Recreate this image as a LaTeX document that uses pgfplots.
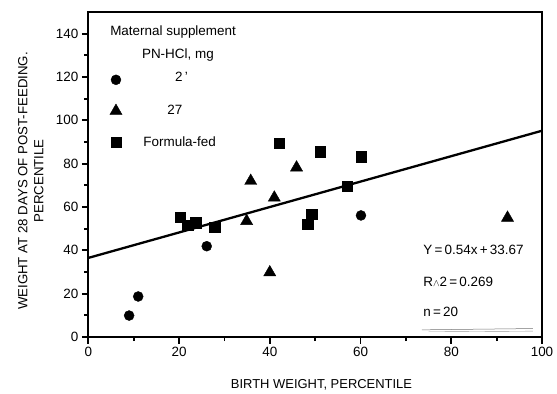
\documentclass[border=0pt]{standalone}
\usepackage{pgfplots}
\pgfplotsset{compat=1.18}
\usepackage{fontspec}
\setmainfont{Liberation Sans}
\begin{document}
\begin{tikzpicture}
\useasboundingbox (-88.3bp,-57bp) rectangle (468.7bp,337bp);
\begin{axis}[
  at={(0,0)}, anchor=south west,
  scale only axis, width=453.7bp, height=325bp,
  xmin=0, xmax=100, ymin=0, ymax=150,
  xtick={0,20,...,100}, ytick={0,20,...,140},
  minor xtick={10,30,...,90}, minor ytick={10,30,...,130},
  tick align=outside, tick pos=left,
  major tick length=6.5bp, minor tick length=4bp,
  axis line style={line width=2.1bp},
  every tick/.style={line width=1.8bp, black},
  clip=false,
  ticklabel style={font=\fontsize{13.5}{15}\selectfont},
  /pgf/number format/assume math mode=true,
  xlabel={BIRTH WEIGHT, PERCENTILE},
  ylabel={WEIGHT AT 28 DAYS OF POST-FEEDING.\\PERCENTILE},
  xlabel style={at={(axis description cs:0.514,0)}, anchor=base, yshift=-51.5bp, font=\fontsize{13}{15}\selectfont},
  ylabel style={at={(axis description cs:-0.1267,0.48)}, anchor=center, align=center, font=\fontsize{13.3}{16.3}\selectfont},
]
% circles (2 mg)
\addplot[only marks, mark=*, mark size=5bp, black] coordinates {
  (9.0,9.9) (11.0,18.7) (26.1,41.9) (60.1,56.1)
};
% triangles (27 mg)
\addplot[only marks, mark=triangle*, mark size=7bp, black] coordinates {
  (35.8,72.0) (34.9,53.5) (40.0,29.8) (41.0,64.3) (45.9,78.2) (92.4,55.0)
};
% squares (formula-fed)
\addplot[only marks, mark=square*, mark size=5.2bp, black] coordinates {
  (20.2,55.3) (21.9,51.5) (23.7,52.7) (27.9,50.7) (42.1,89.5)
  (51.1,85.6) (60.1,83.3) (57.0,69.7) (49.2,56.6) (48.4,52.2)
};
% regression line
\addplot[line width=2.3bp, black] coordinates {(0,36.5) (100,95.2)};
% faint underline artefact
\addplot[black!55, line width=0.5bp] coordinates {(73.5,3.3) (98,3.9)};
\addplot[black!40, line width=0.4bp] coordinates {(75,2.4) (98,2.7)};
% legend markers
\addplot[only marks, mark=*, mark size=5bp, black] coordinates {(6.1,118.7)};
\addplot[only marks, mark=triangle*, mark size=7bp, black] coordinates {(6.1,104.3)};
\addplot[only marks, mark=square*, mark size=5.2bp, black] coordinates {(6.1,89.9)};
% legend text
\node[anchor=base west, inner sep=0, font=\fontsize{13.5}{16}\selectfont] at (axis cs:4.8,139.1) {Maternal supplement};
\node[anchor=base west, inner sep=0, font=\fontsize{13.5}{16}\selectfont] at (axis cs:11.8,128.4) {PN-HCl, mg};
\node[anchor=base west, inner sep=0, font=\fontsize{13.5}{16}\selectfont] at (axis cs:19.1,117.8) {2\,'};
\node[anchor=base west, inner sep=0, font=\fontsize{13.5}{16}\selectfont] at (axis cs:17.4,102.9) {27};
\node[anchor=base west, inner sep=0, font=\fontsize{13.5}{16}\selectfont] at (axis cs:12.1,88.1) {Formula-fed};
% annotations
\node[anchor=base west, inner sep=0, font=\fontsize{13.5}{16}\selectfont] at (axis cs:73.8,38.0) {Y\,=\,0.54x\,+\,33.67};
\node[anchor=base west, inner sep=0, font=\fontsize{13.5}{16}\selectfont] at (axis cs:73.8,23.3) {R{\fontsize{10}{10}\selectfont$\wedge$}2\,=\,0.269};
\node[anchor=base west, inner sep=0, font=\fontsize{13.5}{16}\selectfont] at (axis cs:73.8,9.4) {n\,=\,20};
\end{axis}
\end{tikzpicture}
\end{document}
